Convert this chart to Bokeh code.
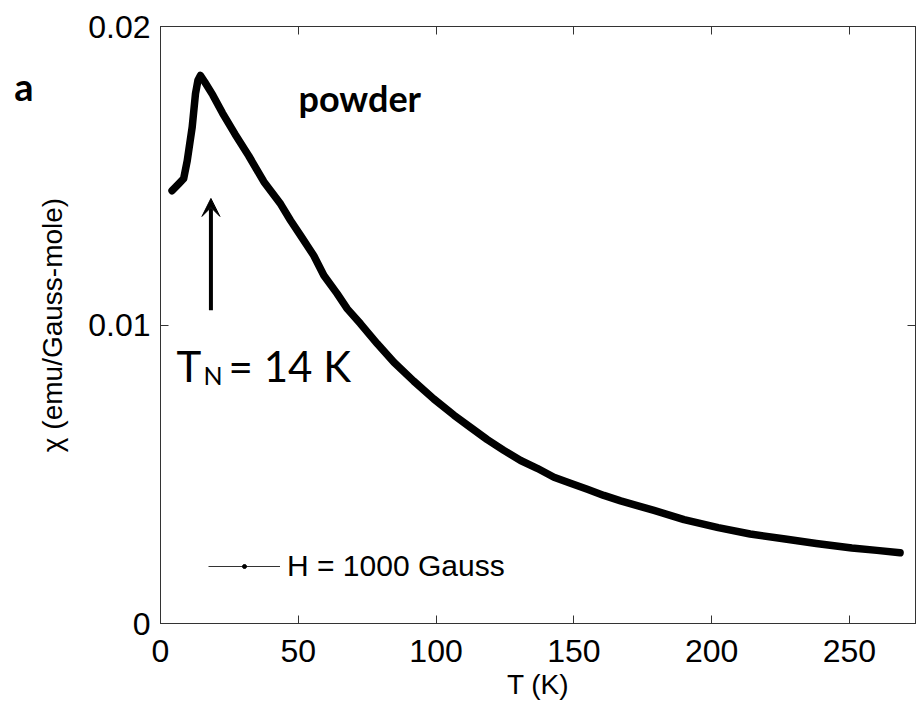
from bokeh.plotting import figure
from bokeh.models import (LinearAxis, FixedTicker, CustomJSTickFormatter, Label,
                          Arrow, VeeHead, Legend, LegendItem, Range1d,
                          CustomLabelingPolicy)
from bokeh.embed import file_html
from bokeh.resources import INLINE

# ---- data ----
temperature_K = [4.2, 6.6, 8.4, 9.7, 11.5, 12.7, 13.6, 14.5, 16.0, 19.0, 22.5, 27.0,
                 32.0, 37.5, 43.6, 47.2, 50.8, 55.6, 59.3, 64.1, 67.8, 72.6, 78.7,
                 84.7, 91.9, 99.2, 106.5, 112.5, 118.6, 124.6, 130.7, 136.7, 142.8,
                 148.8, 154.9, 160.9, 167.0, 173.0, 179.1, 190.0, 202.4, 214.0,
                 226.7, 238.0, 250.9, 260.0, 268.4]
chi_emu = [0.01450, 0.01473, 0.01490, 0.01550, 0.01663, 0.01775, 0.01820, 0.01836,
           0.01815, 0.01770, 0.01710, 0.01640, 0.01567, 0.01480, 0.01405, 0.01350,
           0.01300, 0.01233, 0.01166, 0.01105, 0.01054, 0.01004, 0.00937, 0.00875,
           0.00812, 0.00752, 0.00698, 0.00657, 0.00616, 0.00580, 0.00546, 0.00520,
           0.00490, 0.00470, 0.00450, 0.00429, 0.00411, 0.00395, 0.00379, 0.00348,
           0.00321, 0.00300, 0.00283, 0.00268, 0.00253, 0.00245, 0.00237]
x_ticks = [0, 50, 100, 150, 200, 250]
y_ticks = [0, 0.01, 0.02]
legend_label = "H = 1000 Gauss"
panel_letter = "a"
neel_T = 14

AXIS_COLOR = "#333333"
TICK_FONT = "Liberation Sans"

p = figure(width=916, height=706, output_backend="svg", toolbar_location=None,
           x_range=Range1d(0, 274), y_range=Range1d(0, 0.02),
           min_border_left=160, min_border_right=1, min_border_top=26,
           min_border_bottom=83, background_fill_color="white",
           border_fill_color="white")
p.grid.visible = False
p.outline_line_color = AXIS_COLOR
p.outline_line_width = 1

yfmt = CustomJSTickFormatter(code="return tick == 0 ? '0' : tick.toFixed(2);")

# mirror axes (top / right) carry only inward ticks, no labels at all
no_labels = CustomLabelingPolicy(code="""
    for (const i of Array.from(indices)) { indices.unset(i) }
    return indices
""")

def style_axis(ax, show_labels):
    ax.axis_line_color = AXIS_COLOR
    ax.major_tick_line_color = AXIS_COLOR
    ax.major_tick_in = 8
    ax.major_tick_out = 0
    ax.minor_tick_line_color = None
    if show_labels:
        ax.major_label_text_font = TICK_FONT
        ax.major_label_text_font_size = "32px"
        ax.major_label_text_color = "black"
        ax.axis_label_text_font = TICK_FONT
        ax.axis_label_text_font_size = "28px"
        ax.axis_label_text_font_style = "normal"
        ax.axis_label_text_color = "black"
    else:
        ax.major_label_policy = no_labels
        ax.major_label_text_font_size = "0px"
        ax.major_label_standoff = 0

xb = p.xaxis[0]
xb.ticker = FixedTicker(ticks=x_ticks)
xb.axis_label = "T (K)"
style_axis(xb, True)
xb.major_label_standoff = 16
xb.axis_label_standoff = 4

yl = p.yaxis[0]
yl.ticker = FixedTicker(ticks=y_ticks)
yl.formatter = yfmt
yl.axis_label = "χ (emu/Gauss-mole)"
style_axis(yl, True)
yl.major_label_standoff = 10
yl.axis_label_standoff = 17

# panel letter "a" in the left margin, carried by a bare outer axis
letter_axis = LinearAxis(ticker=FixedTicker(ticks=[0.0180]),
                         major_label_overrides={0.018: panel_letter})
letter_axis.axis_line_color = None
letter_axis.major_tick_line_color = None
letter_axis.minor_tick_line_color = None
letter_axis.major_tick_in = 0
letter_axis.major_tick_out = 0
letter_axis.major_label_standoff = 1
letter_axis.major_label_text_font = "Lato"
letter_axis.major_label_text_font_style = "bold"
letter_axis.major_label_text_font_size = "38px"
letter_axis.major_label_text_color = "black"
p.add_layout(letter_axis, "left")

xt = LinearAxis(ticker=FixedTicker(ticks=x_ticks))
style_axis(xt, False)
p.add_layout(xt, "above")
yr = LinearAxis(ticker=FixedTicker(ticks=y_ticks))
style_axis(yr, False)
p.add_layout(yr, "right")

# ---- MATLAB-style '.-' series (thin line + dots), used by the legend ----
thin_line = p.line(temperature_K, chi_emu, line_color=AXIS_COLOR, line_width=1)
dots = p.scatter(temperature_K, chi_emu, size=5, color="black")
# dense markers make the measured curve look like a thick black band
p.line(temperature_K, chi_emu, line_color="black", line_width=7.5,
       line_join="round", line_cap="round")

legend = Legend(items=[LegendItem(label=legend_label, renderers=[thin_line, dots])],
                location=(48, 40), glyph_width=72, glyph_height=10, label_height=10,
                label_standoff=7, padding=0, margin=0, spacing=0,
                border_line_color=None, background_fill_alpha=0,
                label_text_font=TICK_FONT, label_text_font_size="30px",
                label_text_color="black")
p.add_layout(legend)

# ---- annotations ----
p.add_layout(Label(x=50.1, y=0.01762, text="powder", text_font="Lato",
                   text_font_style="bold", text_font_size="36px",
                   text_baseline="alphabetic", text_color="black"))
p.add_layout(Label(x=5.8, y=0.00864, text="T", text_font="Lato",
                   text_font_size="42px", text_baseline="alphabetic", text_color="black"))
p.add_layout(Label(x=15.6, y=0.00831, text="N", text_font="Lato",
                   text_font_size="25px", text_baseline="alphabetic", text_color="black"))
p.add_layout(Label(x=24.7, y=0.00864, text=f"= {neel_T} K", text_font="Lato",
                   text_font_size="42px", text_baseline="alphabetic", text_color="black"))

p.add_layout(Arrow(end=VeeHead(size=18, fill_color="black", line_color="black"),
                   x_start=18.3, y_start=0.01049, x_end=18.3, y_end=0.01424,
                   line_width=4, line_color="black"))

open("out.html", "w").write(file_html(p, INLINE))
